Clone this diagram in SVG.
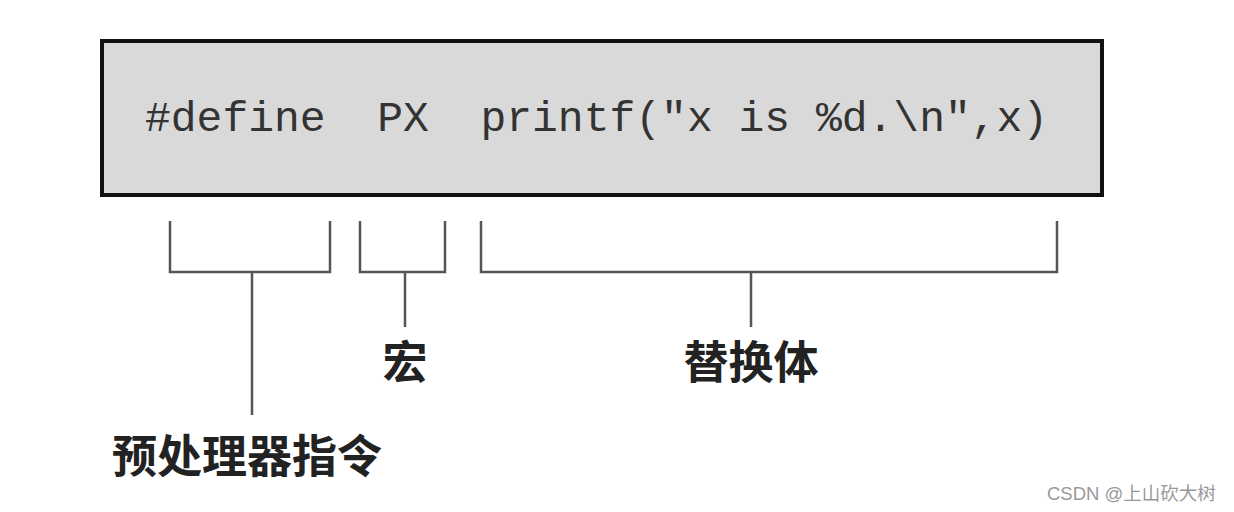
<svg xmlns="http://www.w3.org/2000/svg" width="1234" height="512" viewBox="0 0 1234 512">
<style>
.code{font-family:"Liberation Mono","DejaVu Sans Mono",monospace;font-size:43px;fill:#333}
.lbl{font-family:"Noto Sans CJK SC",sans-serif;font-size:45px;font-weight:bold;fill:#222}
.br{fill:none;stroke:#555;stroke-width:2.5}
.wm{font-family:"Liberation Sans","Noto Sans CJK SC",sans-serif;font-size:18.5px;fill:#999}
</style>
<rect width="1234" height="512" fill="#fff"/>
<g id="codebox">
<rect x="102" y="41" width="1000" height="154" fill="#d9d9d9" stroke="#111" stroke-width="4"/>
<text class="code" x="145" y="131" xml:space="preserve">#define  PX  printf("x is %d.\n",x)</text>
</g>
<g id="connectors">
<path class="br" d="M170 221V272H330V221M252 272V415"/>
<path class="br" d="M360 221V272H445V221M405 272V327"/>
<path class="br" d="M481 221V272H1057V221M751 272V327"/>
</g>
<g id="macro"><text class="lbl" x="405" y="379" text-anchor="middle">宏</text></g>
<g id="replacement"><text class="lbl" x="751" y="379" text-anchor="middle">替换体</text></g>
<g id="directive"><text class="lbl" x="247" y="473" text-anchor="middle">预处理器指令</text></g>
<text class="wm" x="1047" y="500">CSDN @上山砍大树</text>
</svg>
